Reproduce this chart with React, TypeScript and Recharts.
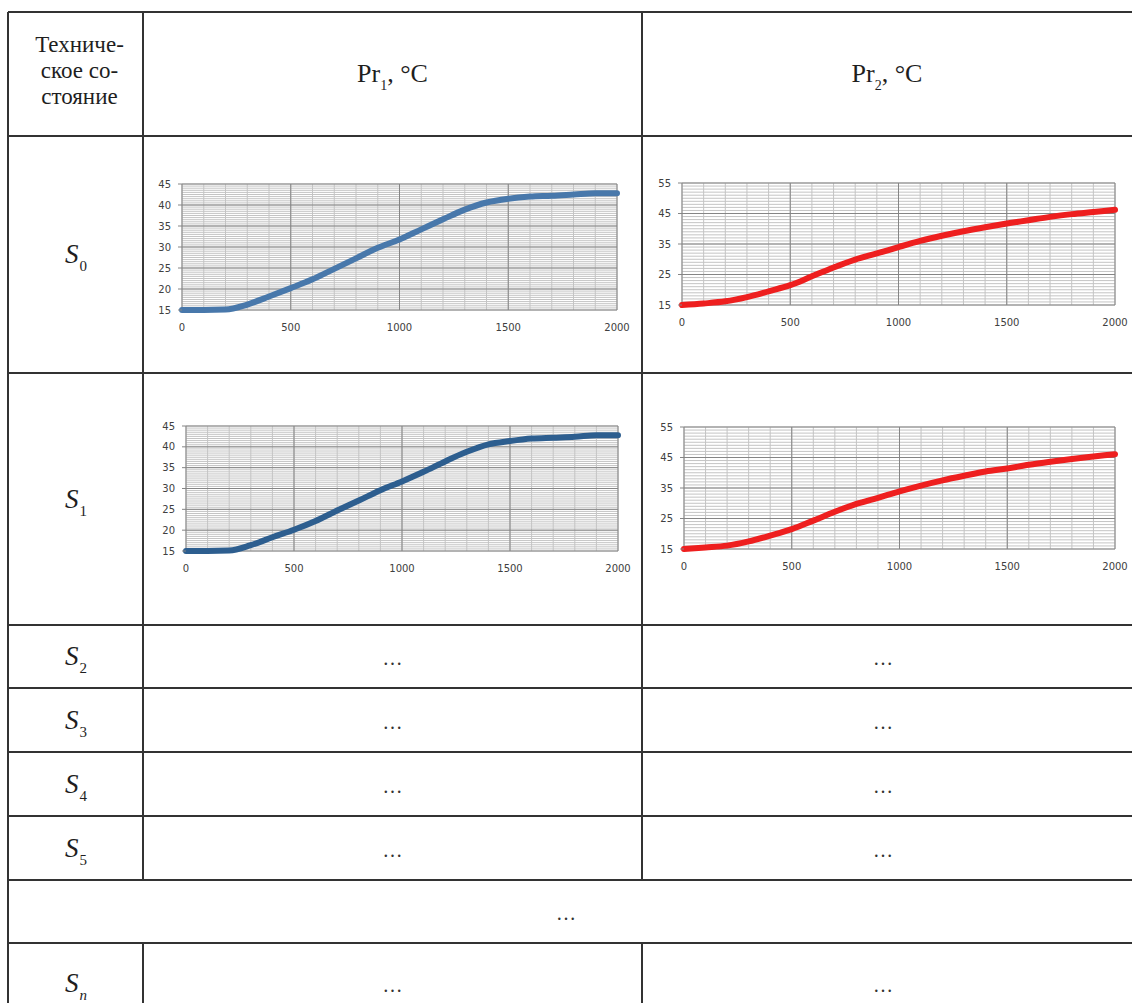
import React from 'react';
import { LineChart, Line, XAxis, YAxis, CartesianGrid } from 'recharts';

// ---- data ----
const timeS = [0, 100, 200, 300, 400, 500, 600, 700, 800, 900, 1000, 1100, 1200, 1300, 1400, 1500, 1600, 1700, 1800, 1900, 2000];

const pr1S0 = [15.0, 15.0, 15.1, 16.3, 18.2, 20.2, 22.3, 24.8, 27.3, 29.8, 31.8, 34.2, 36.6, 38.9, 40.6, 41.5, 42.0, 42.2, 42.5, 42.8, 42.8];
const pr2S0 = [15.0, 15.5, 16.2, 17.6, 19.5, 21.5, 24.4, 27.3, 29.9, 31.9, 34.0, 36.0, 37.7, 39.2, 40.5, 41.7, 42.8, 43.9, 44.8, 45.5, 46.2];
const pr1S1 = [15.0, 15.0, 15.1, 16.4, 18.3, 20.1, 22.2, 24.7, 27.1, 29.6, 31.7, 34.0, 36.5, 38.8, 40.6, 41.4, 42.0, 42.2, 42.4, 42.8, 42.8];
const pr2S1 = [15.0, 15.5, 16.1, 17.5, 19.4, 21.5, 24.3, 27.2, 29.8, 31.8, 33.9, 35.8, 37.5, 39.0, 40.4, 41.4, 42.6, 43.6, 44.5, 45.3, 46.1];

const xTicks = [0, 500, 1000, 1500, 2000];
const pr1YTicks = [15, 20, 25, 30, 35, 40, 45];
const pr2YTicks = [15, 25, 35, 45, 55];

const headerLeft = ['Техниче-', 'ское со-', 'стояние'];
const stateSubs = ['0', '1', '2', '3', '4', '5'];
const ellipsis = '…';

// ---- helpers ----
const toRows = (vals: number[]) => timeS.map((t, i) => ({ t, v: vals[i] }));
const steps = (from: number, to: number, step: number) => {
  const out: number[] = [];
  for (let v = from; v <= to + 1e-9; v += step) out.push(Math.round(v * 100) / 100);
  return out;
};

type ChartProps = {
  vals: number[];
  color: string;
  yTicks: number[];
  yMinorStep: number;
  left: number;
  top: number;
  plotW: number;
  plotH: number;
};

const YW = 32;
const MT = 7;
const MR = 16;
const XH = 30;

function MiniChart({ vals, color, yTicks, yMinorStep, left, top, plotW, plotH }: ChartProps) {
  const yMin = yTicks[0];
  const yMax = yTicks[yTicks.length - 1];
  const minorY = steps(yMin, yMax, yMinorStep);
  const minorX = steps(0, 2000, 100);
  const tickStyle = { fontFamily: '"DejaVu Sans", sans-serif', fontSize: 10, fill: '#404040' };
  return (
    <div style={{ position: 'absolute', left: left - YW, top: top - MT }}>
      <LineChart
        width={YW + plotW + MR}
        height={MT + plotH + XH}
        data={toRows(vals)}
        margin={{ top: MT, right: MR, left: 0, bottom: 0 }}
      >
        <CartesianGrid horizontalValues={minorY} verticalValues={minorX} stroke="#c4c4c4" strokeWidth={1} fill="none" />
        <CartesianGrid horizontalValues={yTicks} verticalValues={xTicks} stroke="#858585" strokeWidth={1} fill="none" />
        <XAxis
          type="number"
          dataKey="t"
          domain={[0, 2000]}
          ticks={xTicks}
          height={XH}
          axisLine={false}
          tickLine={false}
          tickSize={0}
          tickMargin={14}
          tick={tickStyle}
          interval={0}
        />
        <YAxis
          type="number"
          domain={[yMin, yMax]}
          ticks={yTicks}
          width={YW}
          axisLine={false}
          tickLine={{ stroke: '#858585' }}
          tickSize={4}
          tickMargin={7}
          tick={tickStyle}
          interval={0}
        />
        <Line
          type="monotone"
          dataKey="v"
          stroke={color}
          strokeWidth={6}
          strokeLinejoin="round"
          strokeLinecap="round"
          dot={false}
          isAnimationActive={false}
        />
      </LineChart>
    </div>
  );
}

// ---- table geometry ----
const colEdges = [8, 143, 642, 1140];
const rowEdges = [12, 136, 373, 625, 688, 752, 816, 880, 943, 1012];
const LINE = '#333333';

function StateLabel({ sub, italicSub }: { sub: string; italicSub?: boolean }) {
  return (
    <span style={{ fontSize: 27, lineHeight: 1 }}>
      <span style={{ fontStyle: 'italic' }}>S</span>
      <span style={{ fontSize: 15, position: 'relative', top: 8, left: 1, fontStyle: italicSub ? 'italic' : 'normal' }}>{sub}</span>
    </span>
  );
}

function Cell({ x0, x1, y0, y1, children }: { x0: number; x1: number; y0: number; y1: number; children: React.ReactNode }) {
  return (
    <div
      style={{
        position: 'absolute',
        left: x0,
        top: y0,
        width: x1 - x0,
        height: y1 - y0,
        display: 'flex',
        alignItems: 'center',
        justifyContent: 'center',
        textAlign: 'center',
      }}
    >
      {children}
    </div>
  );
}

export default function App() {
  const hLines = rowEdges.slice(0, -1);
  const dots = <span style={{ fontSize: 20, color: '#333', position: 'relative', top: 2 }}>{ellipsis}</span>;
  return (
    <div
      style={{
        position: 'absolute',
        left: 0,
        top: 0,
        width: 1132,
        height: 1003,
        background: '#fff',
        overflow: 'hidden',
        fontFamily: '"Liberation Serif", "Times New Roman", serif',
        color: '#1e1e1e',
      }}
    >
      {/* horizontal lines */}
      {hLines.map((y, i) => (
        <div key={'h' + i} style={{ position: 'absolute', left: colEdges[0], top: y - 0.75, width: colEdges[3] - colEdges[0], height: 1.5, background: LINE }} />
      ))}
      {/* left border */}
      <div style={{ position: 'absolute', left: colEdges[0] - 0.75, top: rowEdges[0], width: 1.5, height: 1003 - rowEdges[0], background: LINE }} />
      {/* inner vertical dividers (interrupted at the merged row) */}
      {[colEdges[1], colEdges[2]].map((x, i) => (
        <React.Fragment key={'v' + i}>
          <div style={{ position: 'absolute', left: x - 0.75, top: rowEdges[0], width: 1.5, height: rowEdges[7] - rowEdges[0], background: LINE }} />
          <div style={{ position: 'absolute', left: x - 0.75, top: rowEdges[8], width: 1.5, height: 1003 - rowEdges[8], background: LINE }} />
        </React.Fragment>
      ))}

      {/* header */}
      <Cell x0={colEdges[0] + 4} x1={colEdges[1] + 4} y0={rowEdges[0] - 3} y1={rowEdges[1] - 3}>
        <div style={{ fontSize: 23, lineHeight: '26px' }}>
          {headerLeft.map((l) => (
            <div key={l}>{l}</div>
          ))}
        </div>
      </Cell>
      <Cell x0={colEdges[1]} x1={colEdges[2]} y0={rowEdges[0]} y1={rowEdges[1]}>
        <span style={{ fontSize: 26 }}>
          Pr<span style={{ fontSize: 14, position: 'relative', top: 8 }}>1</span>, °C
        </span>
      </Cell>
      <Cell x0={colEdges[2]} x1={colEdges[3] - 8} y0={rowEdges[0]} y1={rowEdges[1]}>
        <span style={{ fontSize: 26 }}>
          Pr<span style={{ fontSize: 14, position: 'relative', top: 8 }}>2</span>, °C
        </span>
      </Cell>

      {/* state labels */}
      {stateSubs.map((s, i) => (
        <Cell key={'s' + s} x0={colEdges[0]} x1={colEdges[1]} y0={rowEdges[i + 1]} y1={rowEdges[i + 2]}>
          <StateLabel sub={s} />
        </Cell>
      ))}
      <Cell x0={colEdges[0]} x1={colEdges[1]} y0={rowEdges[8]} y1={1003 + 20}>
        <StateLabel sub="n" italicSub />
      </Cell>

      {/* ellipsis cells */}
      {[3, 4, 5, 6].map((r) => (
        <React.Fragment key={'e' + r}>
          <Cell x0={colEdges[1]} x1={colEdges[2]} y0={rowEdges[r]} y1={rowEdges[r + 1]}>{dots}</Cell>
          <Cell x0={colEdges[2]} x1={colEdges[3] - 16} y0={rowEdges[r]} y1={rowEdges[r + 1]}>{dots}</Cell>
        </React.Fragment>
      ))}
      <Cell x0={colEdges[0]} x1={colEdges[3] - 16} y0={rowEdges[7]} y1={rowEdges[8]}>{dots}</Cell>
      <Cell x0={colEdges[1]} x1={colEdges[2]} y0={rowEdges[8]} y1={1003 + 20}>{dots}</Cell>
      <Cell x0={colEdges[2]} x1={colEdges[3] - 16} y0={rowEdges[8]} y1={1003 + 20}>{dots}</Cell>

      {/* charts */}
      <MiniChart vals={pr1S0} color="#4878ab" yTicks={pr1YTicks} yMinorStep={0.5} left={182} top={184} plotW={435} plotH={126} />
      <MiniChart vals={pr2S0} color="#ee1f1f" yTicks={pr2YTicks} yMinorStep={1} left={682} top={183} plotW={433} plotH={122} />
      <MiniChart vals={pr1S1} color="#2d5e8f" yTicks={pr1YTicks} yMinorStep={0.5} left={186} top={426} plotW={432} plotH={125} />
      <MiniChart vals={pr2S1} color="#ee1f1f" yTicks={pr2YTicks} yMinorStep={1} left={684} top={427} plotW={431} plotH={122} />
    </div>
  );
}
